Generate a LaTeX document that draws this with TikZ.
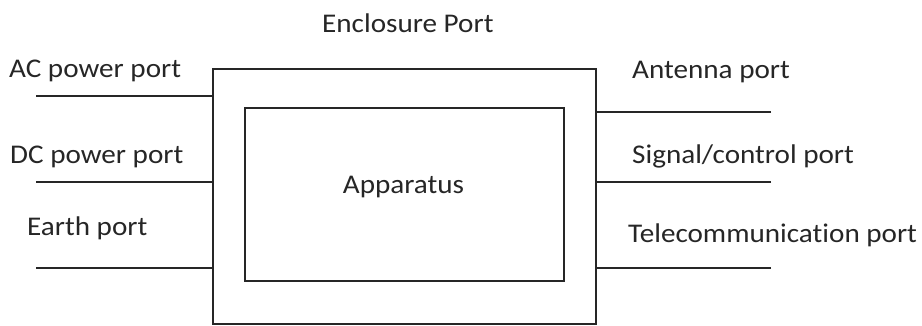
\documentclass[tikz,border=0pt]{standalone}
\usepackage{fontspec}
\setmainfont{Carlito}[FakeStretch=1.08,Ligatures=NoCommon]
\begin{document}
\begin{tikzpicture}[x=1pt,y=-1pt,
  lbl/.style={anchor=base west,inner sep=0pt,font=\fontsize{27}{30}\selectfont,text=black!85},
  box/.style={draw=black!85,line width=1.6pt,inner sep=0pt,anchor=north west},
  port/.style={draw=black!85,line width=1.6pt}]
\useasboundingbox (0,0) rectangle (922,325);
\node[box,minimum width=383pt,minimum height=255pt] (encl) at (212,68) {};
\node[box,minimum width=319pt,minimum height=173pt] (app) at (244,107) {};
\node[anchor=base,inner sep=0pt,font=\fontsize{27}{30}\selectfont,text=black!85] (applbl) at (403.5,193) {Apparatus};
\node[lbl] (enclbl) at (322,32) {Enclosure Port};
\node[lbl] (ac) at (9,77) {AC power port};
\node[lbl] (dc) at (10,163) {DC power port};
\node[lbl] (earth) at (27,235) {Earth port};
\node[lbl] (ant) at (632,78) {Antenna port};
\node[lbl] (sig) at (632,163) {Signal/control port};
\node[lbl] (tel) at (628,242) {Telecommunication port};
\coordinate (l1) at (36,96);
\coordinate (l2) at (36,182);
\coordinate (l3) at (36,268);
\coordinate (r1) at (771,112);
\coordinate (r2) at (771,182);
\coordinate (r3) at (771,268);
\draw[port] (l1) -- (l1 -| encl.west);
\draw[port] (l2) -- (l2 -| encl.west);
\draw[port] (l3) -- (l3 -| encl.west);
\draw[port] (r1) -- (r1 -| encl.east);
\draw[port] (r2) -- (r2 -| encl.east);
\draw[port] (r3) -- (r3 -| encl.east);
\end{tikzpicture}
\end{document}
